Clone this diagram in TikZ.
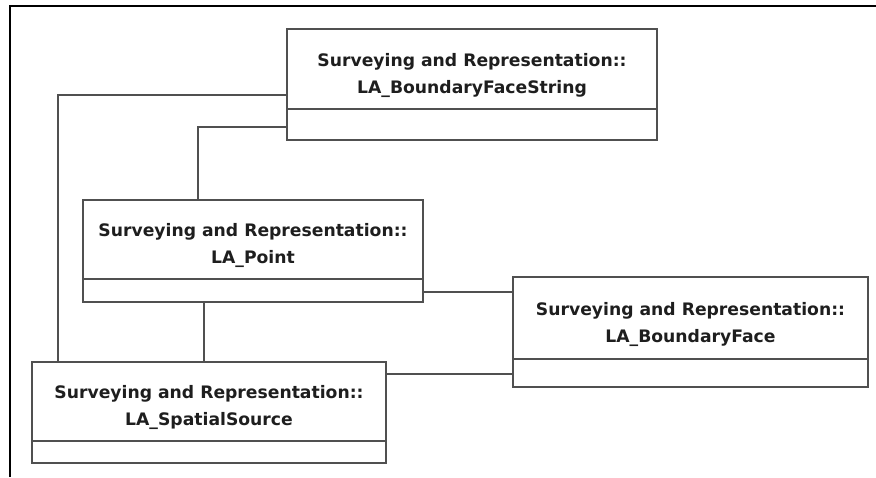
\documentclass[tikz,border=0pt]{standalone}
\usepackage{fontspec}
\newfontfamily\classfont{DejaVu Sans}[BoldFont={DejaVu Sans Bold}]
\usetikzlibrary{positioning}
\definecolor{boxline}{HTML}{505050}
\definecolor{labeltext}{HTML}{1E1E1E}
\tikzset{
  classbox/.style={draw=boxline, line width=1.6pt, fill=white, anchor=north west,
    inner sep=0pt, outer sep=0pt, rectangle},
  classname/.style={align=center, text=labeltext, inner sep=0pt,
    font=\classfont\bfseries\fontsize{17.2pt}{27pt}\selectfont},
  divider/.style={draw=boxline, line width=1.6pt},
  assoc/.style={draw=boxline, line width=1.6pt},
  frameline/.style={draw=black, line width=2.5pt}
}
\begin{document}
\begin{tikzpicture}[x=1pt,y=1pt]
  \useasboundingbox (0,0) rectangle (876,-477);
  % outer frame (top and left edges)
  \draw[frameline] (10,-477) -- (10,-6) -- (876,-6);

  % class boxes
  \node[classbox, minimum width=370pt, minimum height=111pt] (bfs) at (287,-29) {};
  \node[classbox, minimum width=340pt, minimum height=102pt] (pt)  at (83,-200) {};
  \node[classbox, minimum width=354pt, minimum height=101pt] (ss)  at (32,-362) {};
  \node[classbox, minimum width=355pt, minimum height=110pt] (bf)  at (513,-277) {};

  % compartment dividers
  \draw[divider] ([yshift=31pt]bfs.south west) -- ([yshift=31pt]bfs.south east);
  \draw[divider] ([yshift=23pt]pt.south west)  -- ([yshift=23pt]pt.south east);
  \draw[divider] ([yshift=22pt]ss.south west)  -- ([yshift=22pt]ss.south east);
  \draw[divider] ([yshift=28pt]bf.south west)  -- ([yshift=28pt]bf.south east);

  % class names
  \node[classname] (bfsname) at ([yshift=-46pt]bfs.north) {Surveying and Representation::\\LA\_BoundaryFaceString};
  \node[classname] (ptname)  at ([yshift=-45pt]pt.north)  {Surveying and Representation::\\LA\_Point};
  \node[classname] (ssname)  at ([yshift=-45pt]ss.north)  {Surveying and Representation::\\LA\_SpatialSource};
  \node[classname] (bfname)  at ([yshift=-47pt]bf.north)  {Surveying and Representation::\\LA\_BoundaryFace};

  % associations
  \draw[assoc] ([yshift=-66pt]bfs.north west) -| ([xshift=26pt]ss.north west);
  \draw[assoc] ([yshift=-98pt]bfs.north west) -| ([xshift=115pt]pt.north west);
  \draw[assoc] ([xshift=121pt]pt.south west) -- ([xshift=121pt]pt.south west |- ss.north);
  \draw[assoc] ([yshift=-92pt]pt.north east) -- ([yshift=-92pt]pt.north east -| bf.west);
  \draw[assoc] ([yshift=-12pt]ss.north east) -- ([yshift=-12pt]ss.north east -| bf.west);
\end{tikzpicture}
\end{document}
